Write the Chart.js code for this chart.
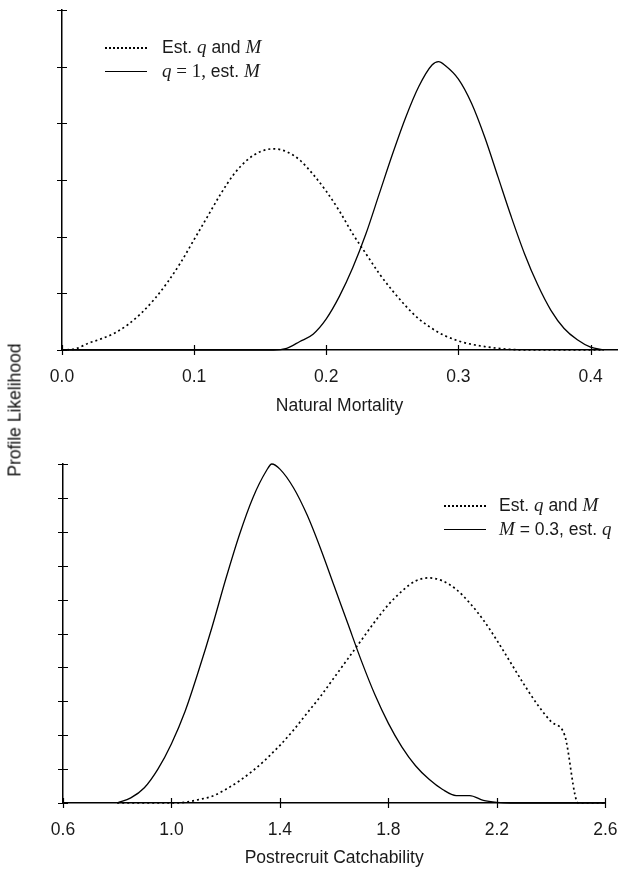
<!DOCTYPE html>
<html>
<head>
<meta charset="utf-8">
<script src="https://cdn.jsdelivr.net/npm/chart.js@4.4.1/dist/chart.umd.min.js"></script>
<style>
  body { margin: 0; background: #fff; }
  #page { position: relative; width: 634px; height: 871px; overflow: hidden; font-family: "Liberation Sans", Arial, sans-serif; color: #1a1a1a; }
  canvas { position: absolute; left: 0; }
  .ylab { position: absolute; left: 15px; top: 410px; font-size: 17.5px; color: #111; white-space: nowrap; transform: translate(-50%, -50%) rotate(-90deg); }
  .leg { position: absolute; font-size: 17.5px; white-space: nowrap; line-height: 20px; }
  .leg i { font-family: "Liberation Serif", "Times New Roman", serif; font-size: 19px; }
  .leg .tm { font-family: "Liberation Serif", "Times New Roman", serif; font-size: 19px; }
  .sample { position: absolute; width: 42px; height: 0; }
  .dot { border-top: 2px dotted #000; }
  .sol { border-top: 1.5px solid #000; }
</style>
</head>
<body>
<div id="page">
  <canvas id="topChart" width="634" height="425" style="top:0"></canvas>
  <canvas id="botChart" width="634" height="446" style="top:425px"></canvas>
  <div class="ylab">Profile Likelihood</div>

  <div class="sample dot" style="left:105px; top:47px"></div>
  <div class="leg" style="left:162px; top:37px">Est. <i>q</i> and <i>M</i></div>
  <div class="sample sol" style="left:105px; top:71px"></div>
  <div class="leg" style="left:162px; top:61px"><i>q</i><span class="tm"> = 1,</span> est. <i>M</i></div>

  <div class="sample dot" style="left:444px; top:505px"></div>
  <div class="leg" style="left:499px; top:495px">Est. <i>q</i> and <i>M</i></div>
  <div class="sample sol" style="left:444px; top:529px"></div>
  <div class="leg" style="left:499px; top:519px"><i>M</i> = 0.3, est. <i>q</i></div>
</div>
<script>
// natural mortality panel
const mortX = [0, 0.01, 0.02, 0.03, 0.04, 0.05, 0.06, 0.07, 0.08, 0.09, 0.10,
    0.11, 0.12, 0.13, 0.14, 0.15, 0.16, 0.17, 0.18, 0.19, 0.20,
    0.21, 0.22, 0.23, 0.24, 0.25, 0.26, 0.27, 0.28, 0.285, 0.29, 0.30,
    0.31, 0.32, 0.33, 0.34, 0.35, 0.36, 0.37, 0.38, 0.39, 0.40, 0.41];
const mortEstQM = [0, 0.02, 0.12, 0.20, 0.30, 0.45, 0.65, 0.90, 1.20, 1.55, 1.95,
    2.35, 2.75, 3.10, 3.35, 3.50, 3.55, 3.50, 3.35, 3.10, 2.80,
    2.45, 2.05, 1.70, 1.35, 1.05, 0.78, 0.55, 0.38, 0.31, 0.25, 0.16,
    0.10, 0.06, 0.03, 0.01, 0, 0, 0, 0, 0, 0, 0];
const mortQ1 = [0, 0, 0, 0, 0, 0, 0, 0, 0, 0, 0,
    0, 0, 0, 0, 0, 0, 0.03, 0.15, 0.28, 0.55,
    0.95, 1.45, 2.05, 2.75, 3.45, 4.10, 4.65, 5.03, 5.09, 5.02, 4.78,
    4.35, 3.75, 3.05, 2.35, 1.70, 1.15, 0.70, 0.38, 0.18, 0.05, 0];
const mortTicks = [0, 0.1, 0.2, 0.3, 0.4];
const mortYTicks = [0, 1, 2, 3, 4, 5, 6];

// postrecruit catchability panel
const catchX = [0.80, 0.85, 0.90, 0.95, 1.00, 1.05, 1.10, 1.15, 1.20, 1.25, 1.30,
    1.35, 1.37, 1.40, 1.45, 1.50, 1.55, 1.60, 1.65, 1.70, 1.75, 1.80,
    1.85, 1.90, 1.95, 2.00, 2.05, 2.10, 2.15, 2.20, 2.25, 2.30,
    2.35, 2.40, 2.45, 2.50, 2.55, 2.60];
const catchEstQM = [0, 0, 0, 0, 0, 0.02, 0.10, 0.20, 0.40, 0.65, 0.95,
    1.30, 1.46, 1.70, 2.15, 2.65, 3.15, 3.70, 4.25, 4.80, 5.35, 5.85,
    6.25, 6.55, 6.64, 6.55, 6.30, 5.90, 5.40, 4.80, 4.15, 3.50,
    2.90, 2.40, 2.00, 0, 0, 0];
const catchM03 = [0, 0.15, 0.45, 1.00, 1.75, 2.70, 3.90, 5.20, 6.60, 7.90, 9.00,
    9.80, 10.0, 9.85, 9.30, 8.50, 7.50, 6.40, 5.30, 4.20, 3.20, 2.35,
    1.65, 1.10, 0.70, 0.40, 0.22, 0.22, 0.08, 0.02, 0, 0,
    0, 0, 0, 0, 0, 0];
const catchTicks = [0.6, 1.0, 1.4, 1.8, 2.2, 2.6];
const catchYTicks = [0, 1, 2, 3, 4, 5, 6, 7, 8, 9, 10];

const FONT = '"Liberation Sans", Arial, sans-serif';
const INK = '#1a1a1a';

// ticks that cross the axis line, like the original plot
const crossTicks = {
    id: 'crossTicks',
    afterDraw(chart) {
        const ctx = chart.ctx;
        const { x, y } = chart.scales;
        ctx.save();
        ctx.strokeStyle = '#000';
        ctx.lineWidth = 1.2;
        ctx.beginPath();
        for (const t of x.ticks) {
            const px = Math.round(x.getPixelForValue(t.value)) + 0.5;
            ctx.moveTo(px, y.bottom - 5);
            ctx.lineTo(px, y.bottom + 5);
        }
        for (const t of y.ticks) {
            const py = Math.round(y.getPixelForValue(t.value)) + 0.5;
            ctx.moveTo(x.left - 5, py);
            ctx.lineTo(x.left + 5, py);
        }
        ctx.stroke();
        ctx.restore();
    }
};

function toPoints(xs, ys) {
    return xs.map((v, i) => ({ x: v, y: ys[i] }));
}

function makeChart(canvas, cfg) {
    return new Chart(canvas.getContext('2d'), {
        type: 'line',
        data: {
            datasets: [{
                label: 'Est. q and M',
                data: toPoints(cfg.xs, cfg.dotted),
                borderColor: '#000',
                borderWidth: 1.7,
                borderDash: [2, 3],
                pointRadius: 0,
                cubicInterpolationMode: 'monotone',
                clip: 6,
            }, {
                label: cfg.solidLabel,
                data: toPoints(cfg.xs, cfg.solid),
                borderColor: '#000',
                borderWidth: 1.3,
                pointRadius: 0,
                cubicInterpolationMode: 'monotone',
                clip: 6,
            }]
        },
        options: {
            responsive: false,
            animation: false,
            events: [],
            layout: { padding: cfg.padding },
            plugins: { legend: { display: false }, tooltip: { enabled: false } },
            scales: {
                x: {
                    type: 'linear',
                    min: cfg.xMin,
                    max: cfg.xMax,
                    afterBuildTicks: s => { s.ticks = cfg.xTicks.map(v => ({ value: v })); },
                    afterFit: s => { s.height = cfg.xHeight; },
                    grid: { display: false, drawTicks: false },
                    border: { display: true, color: '#000', width: 1.5 },
                    ticks: {
                        padding: 16.5,
                        maxRotation: 0,
                        color: INK,
                        font: { family: FONT, size: 17.5 },
                        callback: v => v.toFixed(1),
                    },
                    title: {
                        display: true,
                        text: cfg.xTitle,
                        color: INK,
                        font: { family: FONT, size: 17.5 },
                        padding: { top: 0, bottom: cfg.titlePad },
                    }
                },
                y: {
                    type: 'linear',
                    min: 0,
                    max: cfg.yMax,
                    afterBuildTicks: s => { s.ticks = cfg.yTicks.map(v => ({ value: v })); },
                    afterFit: s => { s.width = 0; },
                    grid: { display: false, drawTicks: false },
                    border: { display: true, color: '#000', width: 1.5 },
                    ticks: { display: false },
                }
            }
        },
        plugins: [crossTicks]
    });
}

makeChart(document.getElementById('topChart'), {
    xs: mortX, dotted: mortEstQM, solid: mortQ1, solidLabel: 'q = 1, est. M',
    xMin: 0, xMax: 0.42, xTicks: mortTicks, yMax: 6, yTicks: mortYTicks,
    xTitle: 'Natural Mortality', xHeight: 75, titlePad: 8.5,
    padding: { left: 62, right: 17, top: 10, bottom: 0 },
});

makeChart(document.getElementById('botChart'), {
    xs: catchX, dotted: catchEstQM, solid: catchM03, solidLabel: 'M = 0.3, est. q',
    xMin: 0.6, xMax: 2.6, xTicks: catchTicks, yMax: 10, yTicks: catchYTicks,
    xTitle: 'Postrecruit Catchability', xHeight: 68, titlePad: 2.5,
    padding: { left: 63, right: 16, top: 39, bottom: 0 },
});
</script>
</body>
</html>
